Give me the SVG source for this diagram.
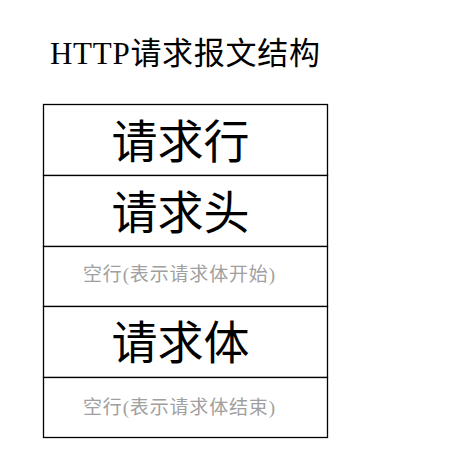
<svg xmlns="http://www.w3.org/2000/svg" width="453" height="466" viewBox="0 0 453 466">
<style>
.box{fill:#fff;stroke:#000;stroke-width:1.3}
.title{font-family:"Liberation Serif","Noto Sans CJK SC",serif;font-size:31px;fill:#000}
.big{font-family:"Liberation Serif","Noto Sans CJK SC",serif;font-size:46px;fill:#000;text-anchor:middle}
.small{font-family:"Liberation Serif","Noto Sans CJK SC",serif;font-size:19px;fill:#a0a0a0}
</style>
<rect width="453" height="466" fill="#fff"/>
<text class="title" x="50" y="64" textLength="270" lengthAdjust="spacing">HTTP请求报文结构</text>
<g id="row-request-line">
<rect class="box" x="43.5" y="104.5" width="284" height="71"/>
<text class="big" x="180.5" y="158">请求行</text>
</g>
<g id="row-request-header">
<rect class="box" x="43.5" y="175.5" width="284" height="71"/>
<text class="big" x="180.5" y="229">请求头</text>
</g>
<g id="row-blank-start">
<rect class="box" x="43.5" y="246.5" width="284" height="60"/>
<text class="small" x="83" y="281" textLength="192" lengthAdjust="spacing">空行(表示请求体开始)</text>
</g>
<g id="row-request-body">
<rect class="box" x="43.5" y="306.5" width="284" height="71"/>
<text class="big" x="180.5" y="359">请求体</text>
</g>
<g id="row-blank-end">
<rect class="box" x="43.5" y="377.5" width="284" height="60"/>
<text class="small" x="83" y="414" textLength="192" lengthAdjust="spacing">空行(表示请求体结束)</text>
</g>
<g id="connectors"></g>
</svg>
